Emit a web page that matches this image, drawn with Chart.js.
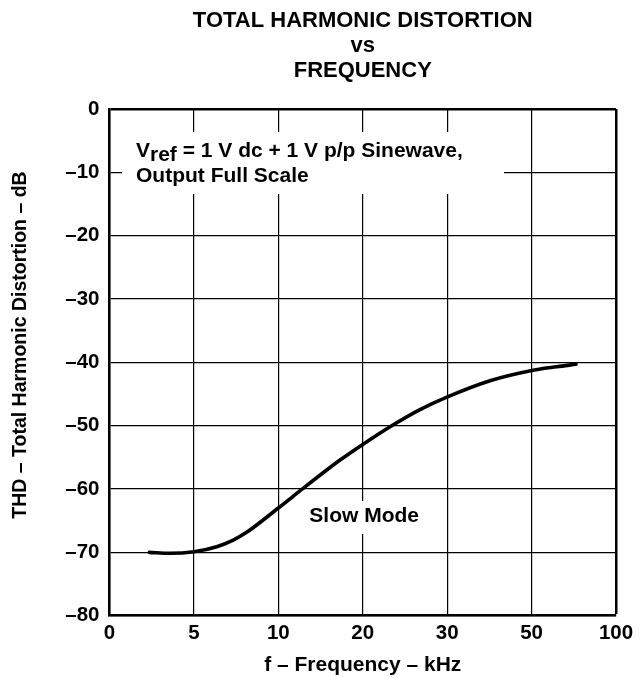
<!DOCTYPE html>
<html>
<head>
<meta charset="utf-8">
<script src="https://cdn.jsdelivr.net/npm/chart.js@4/dist/chart.umd.min.js"></script>
<style>
html,body{margin:0;padding:0;background:#fff;}
#wrap{width:642px;height:678px;}
</style>
</head>
<body>
<div id="wrap"><canvas id="c" width="642" height="678"></canvas></div>
<script>
// ---- data ----
const xTickValues = [0, 5, 10, 20, 30, 50, 100];          // kHz at the evenly spaced grid lines
const xTickLabels = ['0', '5', '10', '20', '30', '50', '100'];
const yTickLabels = ['0', '–10', '–20', '–30', '–40', '–50', '–60', '–70', '–80'];
const freqKHz = [2.36, 3.58, 5, 6.35, 7.33, 8.03, 10, 12.89, 15.73, 17.31, 19.91, 23.43, 26.78, 29.9, 40.15, 49.8, 64.9, 76.3];
const thdDb   = [-70.0, -70.15, -69.9, -69.1, -68.05, -67.0, -63.0, -59.95, -57.0, -55.42, -53.03, -50.0, -47.45, -45.52, -42.9, -41.32, -40.7, -40.31];

// piecewise position of a frequency on the (non-uniform) axis
function freqToPos(f) {
  for (let i = 0; i < xTickValues.length - 1; i++) {
    const a = xTickValues[i], b = xTickValues[i + 1];
    if (f <= b) return i + (f - a) / (b - a);
  }
  return xTickValues.length - 1;
}
const points = freqKHz.map((f, i) => ({ x: freqToPos(f), y: thdDb[i] }));

const FONT = '"Liberation Sans", Arial, Helvetica, sans-serif';
const lastX = xTickValues.length - 1;

const deco = {
  id: 'deco',
  beforeDatasetsDraw(chart) {
    const ctx = chart.ctx;
    ctx.save();
    ctx.fillStyle = '#fff';
    ctx.fillRect(122, 132, 382, 62);
    ctx.fillRect(298, 501, 132, 33);
    ctx.restore();
  },
  afterDraw(chart) {
    const ctx = chart.ctx;
    const ca = chart.chartArea;
    const cx = (ca.left + ca.right) / 2;
    ctx.save();
    ctx.fillStyle = '#000';
    // main title
    ctx.font = 'bold 22px ' + FONT;
    ctx.textAlign = 'center';
    ctx.textBaseline = 'alphabetic';
    ctx.fillText('TOTAL HARMONIC DISTORTION', cx, 26.7);
    ctx.fillText('vs', cx, 51.7);
    ctx.fillText('FREQUENCY', cx, 76.7);
    // annotation
    ctx.font = 'bold 21px ' + FONT;
    ctx.textAlign = 'left';
    let x = 136;
    ctx.fillText('V', x, 156.5);
    x += ctx.measureText('V').width;
    ctx.fillText('ref', x, 161);
    x += ctx.measureText('ref').width;
    ctx.fillText(' = 1 V dc + 1 V p/p Sinewave,', x, 156.5);
    ctx.fillText('Output Full Scale', 136, 182.2);
    ctx.fillText('Slow Mode', 309.3, 522.3);
    // y title
    ctx.font = 'bold 19.5px ' + FONT;
    ctx.translate(26, 345);
    ctx.rotate(-Math.PI / 2);
    ctx.textAlign = 'center';
    ctx.fillText('THD – Total Harmonic Distortion – dB', 0, 0);
    ctx.restore();
  }
};

new Chart(document.getElementById('c'), {
  type: 'line',
  data: {
    datasets: [{
      data: points,
      borderColor: '#000',
      borderWidth: 3.6,
      pointRadius: 0,
      fill: false,
      cubicInterpolationMode: 'monotone',
      borderCapStyle: 'round'
    }]
  },
  options: {
    responsive: false,
    animation: false,
    devicePixelRatio: 1,
    layout: { padding: { top: 109, right: 26, left: 0, bottom: 0 } },
    plugins: { legend: { display: false }, tooltip: { enabled: false }, title: { display: false } },
    scales: {
      x: {
        type: 'linear',
        min: 0, max: lastX,
        afterFit(s) { s.height = 62.3; },
        ticks: {
          stepSize: 1,
          padding: 5,
          color: '#000',
          font: { family: FONT, size: 20.5, weight: 'bold' },
          maxRotation: 0,
          callback: (v) => xTickLabels[v]
        },
        grid: {
          drawTicks: false,
          color: '#000',
          lineWidth: (c) => (c.index === lastX ? 2.5 : 1.2)
        },
        border: { display: true, color: '#000', width: 2.5 },
        title: {
          display: true,
          text: 'f – Frequency – kHz',
          color: '#000',
          font: { family: FONT, size: 21, weight: 'bold' },
          padding: { top: 0, bottom: 0 }
        }
      },
      y: {
        type: 'linear',
        min: -80, max: 0,
        afterFit(s) { s.width = 109.5; },
        ticks: {
          stepSize: 10,
          padding: 10,
          color: '#000',
          font: { family: FONT, size: 20.5, weight: 'bold' },
          callback: (v) => yTickLabels[Math.round(-v / 10)]
        },
        grid: {
          drawTicks: false,
          color: '#000',
          lineWidth: (c) => (c.tick && c.tick.value === 0 ? 2.5 : 1.2)
        },
        border: { display: true, color: '#000', width: 2.5 }
      }
    }
  },
  plugins: [deco]
});
</script>
</body>
</html>
